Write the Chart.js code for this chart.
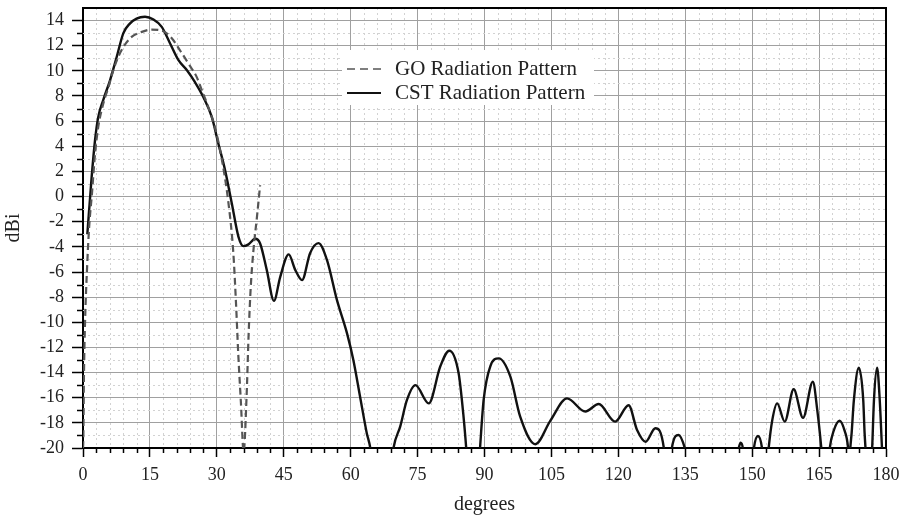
<!DOCTYPE html>
<html>
<head>
<meta charset="utf-8">
<script src="https://cdn.jsdelivr.net/npm/chart.js@4.4.1/dist/chart.umd.min.js"></script>
<style>
  html, body { margin: 0; padding: 0; background: #fff; }
  #wrap { width: 900px; height: 519px; }
</style>
</head>
<body>
<div id="wrap"><canvas id="c" width="900" height="519"></canvas></div>
<script>
// ---------- data ----------
const xTickLabels = [0, 15, 30, 45, 60, 75, 90, 105, 120, 135, 150, 165, 180];
const yTickLabels = [-20, -18, -16, -14, -12, -10, -8, -6, -4, -2, 0, 2, 4, 6, 8, 10, 12, 14];
const xTitle = 'degrees';
const yTitle = 'dBi';
const seriesNames = ['GO Radiation Pattern', 'CST Radiation Pattern'];

const goDeg = [0, 0.07, 0.22, 0.45, 0.97, 1.2, 1.5, 1.95, 2.7, 3.4, 4.55, 5.7, 6.8, 7.9, 9.05, 10.9, 13.2, 15.4, 17.65, 19.9,
  21.8, 23.6, 25.5, 26.6, 28.0, 29.5, 31.0, 32.6, 33.7, 34.3, 34.8, 35.4, 36.0, 36.7, 37.1, 37.6, 38.2, 39.0, 39.7];
const goDbi = [-20, -19.4, -14.1, -10.1, -5.2, -3.5, -1.8, 0, 3.4, 5.5, 7.4, 8.7, 10.05, 11.1, 11.9, 12.7, 13.1, 13.28, 13.2, 12.6,
  11.6, 10.6, 9.5, 8.5, 7.2, 5.6, 3.2, -0.5, -4.5, -8.5, -12.5, -16.4, -20.3, -15.6, -11.2, -7.2, -4.3, -1.6, 0.9];

const cstDeg = [0.97, 1.95, 2.7, 3.4, 4.55, 6.06, 7.55, 9.05, 10.5, 12.0,
  13.9, 15.8, 17.65, 19.5, 21.4, 23.3, 25.1, 27.0, 28.9, 30.35,
  31.85, 33.36, 34.85, 35.96, 37.1, 38.6, 39.7, 41.2, 42.8, 44.2,
  46.1, 47.6, 49.1, 50.9, 52.8, 54.7, 56.9, 59.2, 60.6, 62.1,
  63.6, 64.4, 67.0, 69.6, 71.1, 72.6, 74.5, 77.5, 80.1, 82.1,
  84.2, 85.3, 85.9, 87.45, 89.0, 89.8, 91.3, 93.2, 95.8, 98.0,
  101.4, 104.8, 108.5, 112.6, 115.6, 119.3, 122.3, 124.2, 126.1, 128.3,
  130.2, 131.1, 132.0, 133.5, 134.9, 141.0, 147.0, 147.4, 147.9, 149.15,
  150.4, 151.3, 152.2, 152.95, 153.7, 154.5, 155.6, 157.3, 159.3, 161.4,
  163.6, 164.6, 165.5, 166.45, 167.4, 168.3, 169.6, 170.7, 171.5, 171.75,
  172.0, 172.3, 172.8, 173.9, 174.9, 175.2, 175.4, 176.15, 176.9, 177.3,
  178.0, 178.6, 179.1, 180];
const cstDbi = [-3, 1.6, 4.5, 6.3, 7.7, 9.25, 11.1, 13.0, 13.76, 14.16,
  14.3, 14.08, 13.5, 12.2, 10.85, 10.05, 9.1, 7.9, 6.3, 4.2,
  2.1, -0.55, -3.2, -3.94, -3.8, -3.36, -3.73, -5.85, -8.3, -6.4,
  -4.6, -5.85, -6.65, -4.5, -3.7, -5.06, -8.2, -10.9, -13.0, -15.9,
  -18.8, -20, -28, -20, -18.3, -16.2, -15.0, -16.45, -13.5, -12.26,
  -14.06, -17.5, -20, -28, -20, -16.2, -13.5, -12.87, -14.33, -17.5,
  -19.7, -17.8, -16.05, -17.1, -16.5, -17.9, -16.6, -18.57, -19.5, -18.43,
  -20, -24, -20, -18.97, -20, -30, -20, -19.58, -20, -25,
  -20, -19.05, -20, -23, -20, -17.8, -16.45, -17.9, -15.33, -17.6,
  -14.73, -17.0, -20, -24, -20, -18.6, -17.83, -18.6, -20, -21.5,
  -20, -18.8, -16.2, -13.62, -16.2, -18.8, -20, -25, -20, -16.2,
  -13.62, -16.2, -20, -26];

// ---------- helpers ----------
const FONT = 'Liberation Serif';
const isInt = (v, list) => Math.abs(v - Math.round(v)) < 1e-6 && list.includes(Math.round(v));
const toPts = (xs, ys) => xs.map((x, i) => ({ x: x, y: ys[i] }));

const decor = {
  id: 'decor',
  beforeDatasetsDraw(chart) {
    const { ctx, chartArea: a, scales: { x, y } } = chart;
    ctx.save();
    ctx.strokeStyle = '#d2d2d2';
    ctx.lineWidth = 1;
    ctx.setLineDash([2, 3]);
    x.ticks.forEach(t => {
      if (!isInt(t.value, xTickLabels)) {
        const px = Math.round(x.getPixelForValue(t.value)) + 0.5;
        ctx.beginPath(); ctx.moveTo(px, a.top); ctx.lineTo(px, a.bottom); ctx.stroke();
      }
    });
    y.ticks.forEach(t => {
      if (!isInt(t.value, yTickLabels) && t.value < y.max) {
        const py = Math.round(y.getPixelForValue(t.value)) + 0.5;
        ctx.beginPath(); ctx.moveTo(a.left, py); ctx.lineTo(a.right, py); ctx.stroke();
      }
    });
    ctx.setLineDash([]);
    ctx.strokeStyle = '#000';
    ctx.lineWidth = 1.5;
    x.ticks.forEach(t => {
      if (!isInt(t.value, xTickLabels)) {
        const px = Math.round(x.getPixelForValue(t.value)) + 0.5;
        ctx.beginPath(); ctx.moveTo(px, a.bottom); ctx.lineTo(px, a.bottom + 5); ctx.stroke();
      }
    });
    y.ticks.forEach(t => {
      if (!isInt(t.value, yTickLabels) && t.value < y.max) {
        const py = Math.round(y.getPixelForValue(t.value)) + 0.5;
        ctx.beginPath(); ctx.moveTo(a.left - 6, py); ctx.lineTo(a.left, py); ctx.stroke();
      }
    });
    ctx.restore();
  },
  afterDatasetsDraw(chart) {
    const { ctx, chartArea: a } = chart;
    ctx.save();
    // frame top / right
    ctx.strokeStyle = '#000';
    ctx.lineWidth = 2;
    ctx.beginPath();
    ctx.moveTo(a.left, a.top); ctx.lineTo(a.right, a.top); ctx.lineTo(a.right, a.bottom);
    ctx.stroke();
    // legend
    const bx = a.left + 259, by = a.top + 42, bw = 252, bh = 55;
    ctx.fillStyle = '#fff';
    ctx.fillRect(bx, by, bw, bh);
    const ds = chart.data.datasets;
    ds.forEach((d, i) => {
      const ly = by + 19 + i * 24;
      ctx.strokeStyle = d.borderColor;
      ctx.lineWidth = i === 0 ? 1.6 : 1.8;
      ctx.setLineDash(d.borderDash ? [8, 5] : []);
      ctx.beginPath(); ctx.moveTo(bx + 5, ly); ctx.lineTo(bx + 39, ly); ctx.stroke();
      ctx.setLineDash([]);
      ctx.fillStyle = '#222';
      ctx.font = '21px "' + FONT + '"';
      ctx.textBaseline = 'middle';
      ctx.textAlign = 'left';
      ctx.fillText(d.label, bx + 53, ly);
    });
    ctx.restore();
  }
};

new Chart(document.getElementById('c'), {
  type: 'line',
  data: {
    datasets: [
      {
        label: seriesNames[0],
        data: toPts(goDeg, goDbi),
        borderColor: '#555',
        borderWidth: 2.2,
        borderDash: [7, 4],
        pointRadius: 0,
        fill: false,
        cubicInterpolationMode: 'monotone'
      },
      {
        label: seriesNames[1],
        data: toPts(cstDeg, cstDbi),
        borderColor: '#111',
        borderWidth: 2.4,
        pointRadius: 0,
        fill: false,
        cubicInterpolationMode: 'monotone'
      }
    ]
  },
  options: {
    responsive: false,
    animation: false,
    devicePixelRatio: 1,
    layout: { padding: { top: 8, right: 14, left: 0, bottom: 0 } },
    plugins: { legend: { display: false }, tooltip: { enabled: false } },
    scales: {
      x: {
        type: 'linear', min: 0, max: 180,
        afterFit(s) { s.height = 71; s.paddingLeft = 0; s.paddingRight = 0; },
        ticks: {
          stepSize: 3, autoSkip: false, maxRotation: 0, minRotation: 0, padding: 7,
          color: '#222', font: { family: FONT, size: 18 },
          callback: v => isInt(v, xTickLabels) ? String(Math.round(v)) : ''
        },
        grid: {
          color: c => (c.tick && isInt(c.tick.value, xTickLabels)) ? '#a0a0a0' : 'rgba(0,0,0,0)',
          tickColor: c => (c.tick && isInt(c.tick.value, xTickLabels)) ? '#000' : 'rgba(0,0,0,0)',
          lineWidth: 1, tickLength: 9, tickWidth: 1.5
        },
        border: { color: '#000', width: 2 },
        title: { display: true, text: xTitle, color: '#222', font: { family: FONT, size: 20 }, padding: { top: 0, bottom: 2 } }
      },
      y: {
        type: 'linear', min: -20, max: 15,
        afterFit(s) { s.width = 83; s.paddingTop = 0; s.paddingBottom = 0; },
        ticks: {
          stepSize: 1, autoSkip: false, padding: 8,
          color: '#222', font: { family: FONT, size: 18 },
          callback: v => isInt(v, yTickLabels) ? String(Math.round(v)) : ''
        },
        grid: {
          color: c => (c.tick && isInt(c.tick.value, yTickLabels)) ? '#a0a0a0' : 'rgba(0,0,0,0)',
          tickColor: c => (c.tick && isInt(c.tick.value, yTickLabels)) ? '#000' : 'rgba(0,0,0,0)',
          lineWidth: 1, tickLength: 11, tickWidth: 1.5
        },
        border: { color: '#000', width: 2 },
        title: { display: true, text: yTitle, color: '#222', font: { family: FONT, size: 20 }, padding: { top: 2, bottom: 0 } }
      }
    }
  },
  plugins: [decor]
});
</script>
</body>
</html>
